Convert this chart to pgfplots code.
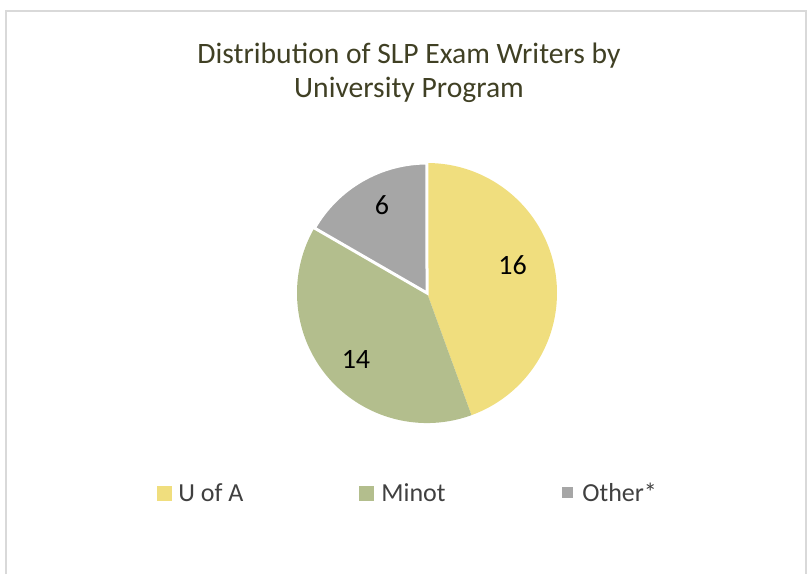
\documentclass[border=0pt]{standalone}
\usepackage{fontspec}
\setmainfont{Carlito}
\usepackage{pgfplots}
\pgfplotsset{compat=1.18}

\definecolor{uofa}{HTML}{F0DE7E}
\definecolor{minot}{HTML}{B3BE8D}
\definecolor{other}{HTML}{A6A6A6}
\definecolor{titlecol}{HTML}{404024}
\definecolor{legcol}{HTML}{404040}
\definecolor{framecol}{HTML}{D9D9D9}

% slice values (clockwise from 12 o'clock)
\def\vA{16}\def\vB{14}\def\vC{6}
\pgfmathsetmacro\tot{\vA+\vB+\vC}
\pgfmathsetmacro\aA{90}
\pgfmathsetmacro\aB{\aA-\vA/\tot*360}
\pgfmathsetmacro\aC{\aB-\vB/\tot*360}
\pgfmathsetmacro\aD{\aC-\vC/\tot*360}

% start angle, end angle, colour, value, extra style, label angle shift, label radius
\newcommand\slice[7]{%
  \pgfmathsetmacro\mid{(#1+#2)/2+#6}%
  \edef\tmp{\noexpand\filldraw[fill=#3,#5] (axis cs:427,293) -- ++(#1:65pt)
    arc[start angle=#1,end angle=#2,radius=65pt] -- cycle;
    \noexpand\path (axis cs:427,293) ++(\mid:#7)
    node[font=\noexpand\fontsize{14}{16}\noexpand\selectfont,text=black] {#4};}%
  \tmp}

\begin{document}
\begin{tikzpicture}
\begin{axis}[
    width=405pt, height=287pt, scale only axis,
    hide axis, clip=false,
    xmin=0, xmax=810, ymin=0, ymax=574,
    y dir=reverse,
]
\path (axis cs:0,0) rectangle (axis cs:810,574);
\draw[framecol, line width=0.8pt]
  (axis cs:6,574) -- (axis cs:6,11) -- (axis cs:806,11) -- (axis cs:806,574);

% title
\node[anchor=base, text=titlecol, font=\fontsize{14.8}{17}\selectfont]
  at (axis cs:409,63) {Distribution of SLP Exam Writers by};
\node[anchor=base, text=titlecol, font=\fontsize{14.8}{17}\selectfont]
  at (axis cs:409,97) {University Program};

% pie
\slice{\aA}{\aB}{uofa}{\vA}{draw=none}{8}{45pt}
\slice{\aB}{\aC}{minot}{\vB}{draw=none}{3.3}{48.8pt}
\slice{\aC}{\aD}{other}{\vC}{draw=white,line width=1.5pt}{-3}{49.5pt}

% legend
\fill[uofa] (axis cs:157,486) rectangle (axis cs:172,501);
\node[anchor=base west, inner sep=0pt, text=legcol, font=\fontsize{13}{15}\selectfont]
  at (axis cs:178,501) {U of A};
\fill[minot] (axis cs:359,486) rectangle (axis cs:374,501);
\node[anchor=base west, inner sep=0pt, text=legcol, font=\fontsize{13}{15}\selectfont]
  at (axis cs:381,501) {Minot};
\fill[other] (axis cs:562,487) rectangle (axis cs:573,498);
\node[anchor=base west, inner sep=0pt, text=legcol, font=\fontsize{13}{15}\selectfont]
  at (axis cs:582,501) {Other*};
\end{axis}
\end{tikzpicture}
\end{document}
